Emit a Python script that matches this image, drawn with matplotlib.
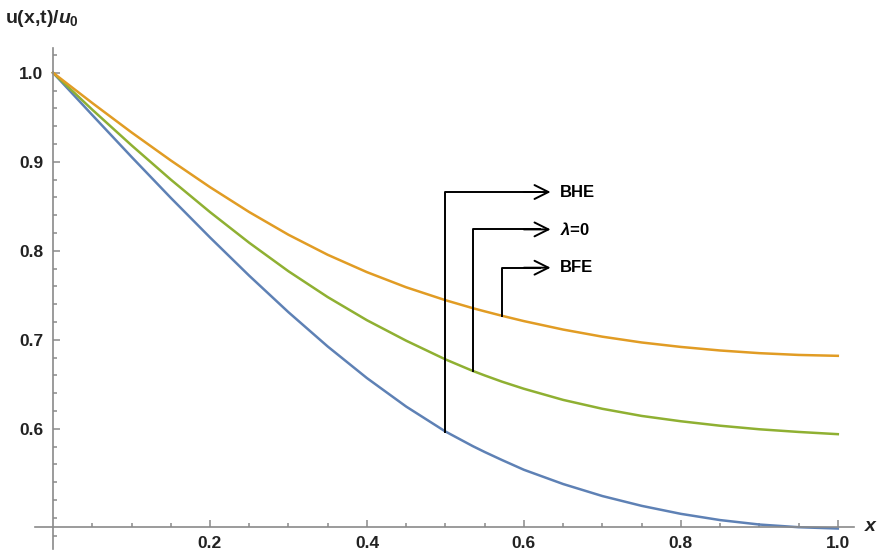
import matplotlib.pyplot as plt
from matplotlib.ticker import FixedLocator

# values
x = [0.0, 0.05, 0.10, 0.15, 0.20, 0.25, 0.30, 0.35, 0.40, 0.45, 0.50, 0.535,
     0.55, 0.572, 0.60, 0.65, 0.70, 0.75, 0.80, 0.85, 0.90, 0.95, 1.0]
u_bfe = [1.0, 0.966, 0.933, 0.9015, 0.8715, 0.8435, 0.818, 0.7955, 0.776, 0.759,
         0.7445, 0.7355, 0.732, 0.727, 0.721, 0.7115, 0.7035, 0.697, 0.692, 0.688,
         0.685, 0.683, 0.682]
u_lam0 = [1.0, 0.9585, 0.9185, 0.880, 0.8435, 0.809, 0.777, 0.748, 0.722, 0.699,
          0.678, 0.665, 0.660, 0.653, 0.645, 0.6325, 0.6225, 0.6145, 0.6085, 0.6035,
          0.5995, 0.5965, 0.594]
u_bhe = [1.0, 0.9525, 0.9055, 0.8595, 0.815, 0.772, 0.731, 0.6925, 0.657, 0.625,
         0.597, 0.5805, 0.574, 0.565, 0.554, 0.538, 0.5245, 0.5135, 0.5045, 0.4975,
         0.4925, 0.4895, 0.488]

labels = ['BHE', r'$\lambda$=0', 'BFE']
# index in x where each callout leaves its curve
callout_idx = [10, 11, 13]

plt.rcParams['font.family'] = ['Liberation Sans', 'DejaVu Sans']
plt.rcParams['mathtext.fontset'] = 'custom'
plt.rcParams['mathtext.it'] = 'Liberation Sans:italic:bold'
plt.rcParams['mathtext.rm'] = 'Liberation Sans:bold'
plt.rcParams['mathtext.bf'] = 'Liberation Sans:bold'

fig = plt.figure(figsize=(8.79, 5.54), dpi=100)
ax = fig.add_axes([0.038, 0.009, 0.933, 0.924])

for ys, c in [(u_bhe, '#5E81B5'), (u_lam0, '#8FB032'), (u_bfe, '#E19C24')]:
    ax.plot(x, ys, color=c, lw=1.8, solid_joinstyle='round')

ax.set_xlim(-0.025, 1.02)
ax.set_ylim(0.465, 1.04)

gray = '#8a8a8a'
for s in ['top', 'right']:
    ax.spines[s].set_visible(False)
ax.spines['left'].set_position(('data', 0))
ax.spines['bottom'].set_position(('data', 0.49))
ax.spines['left'].set_bounds(0.465, 1.028)
ax.spines['bottom'].set_bounds(-0.023, 1.02)
for s in ['left', 'bottom']:
    ax.spines[s].set_color(gray)
    ax.spines[s].set_linewidth(1.2)

ax.xaxis.set_major_locator(FixedLocator([0.2, 0.4, 0.6, 0.8, 1.0]))
ax.xaxis.set_minor_locator(FixedLocator([0.05, 0.1, 0.15, 0.25, 0.3, 0.35, 0.45, 0.5,
                                         0.55, 0.65, 0.7, 0.75, 0.85, 0.9, 0.95]))
ax.yaxis.set_major_locator(FixedLocator([0.6, 0.7, 0.8, 0.9, 1.0]))
ax.yaxis.set_minor_locator(FixedLocator([0.48, 0.5, 0.52, 0.54, 0.56, 0.58, 0.62, 0.64,
                                         0.66, 0.68, 0.72, 0.74, 0.76, 0.78, 0.82, 0.84,
                                         0.86, 0.88, 0.92, 0.94, 0.96, 0.98, 1.02]))
ax.xaxis.set_major_formatter(plt.FormatStrFormatter('%.1f'))
ax.yaxis.set_major_formatter(plt.FormatStrFormatter('%.1f'))
ax.tick_params(which='both', direction='in', color=gray, width=1.1,
               labelsize=12.5, labelcolor='#222222', pad=7)
ax.tick_params(which='major', length=5)
ax.tick_params(which='minor', length=3)
for t in ax.get_xticklabels() + ax.get_yticklabels():
    t.set_fontweight('bold')

fig.text(0.006, 0.967, r'u(x,t)/$u_0$', fontsize=14, fontweight='bold',
         color='#222222', va='center', ha='left')
ax.text(1.033, 0.49, r'$x$', fontsize=14, color='#222222', va='center', ha='left')

# callouts: vertical line from curve, horizontal line, open arrow head, label
tops = [0.866, 0.824, 0.781]
series = [u_bhe, u_lam0, u_bfe]
for ys, i, top, lab in zip(series, callout_idx, tops, labels):
    cx, cy = x[i], ys[i]
    ax.plot([cx, cx, 0.62], [cy, top, top], color='black', lw=1.4)
    ax.annotate('', xy=(0.634, top), xytext=(0.60, top),
                arrowprops=dict(arrowstyle='->,head_length=1.0,head_width=0.5',
                                color='black', lw=1.4, mutation_scale=10,
                                shrinkA=0, shrinkB=0))
    ax.text(0.646, top, lab, fontsize=12, fontweight='bold', va='center', ha='left')

plt.savefig('out.png', dpi=100)
